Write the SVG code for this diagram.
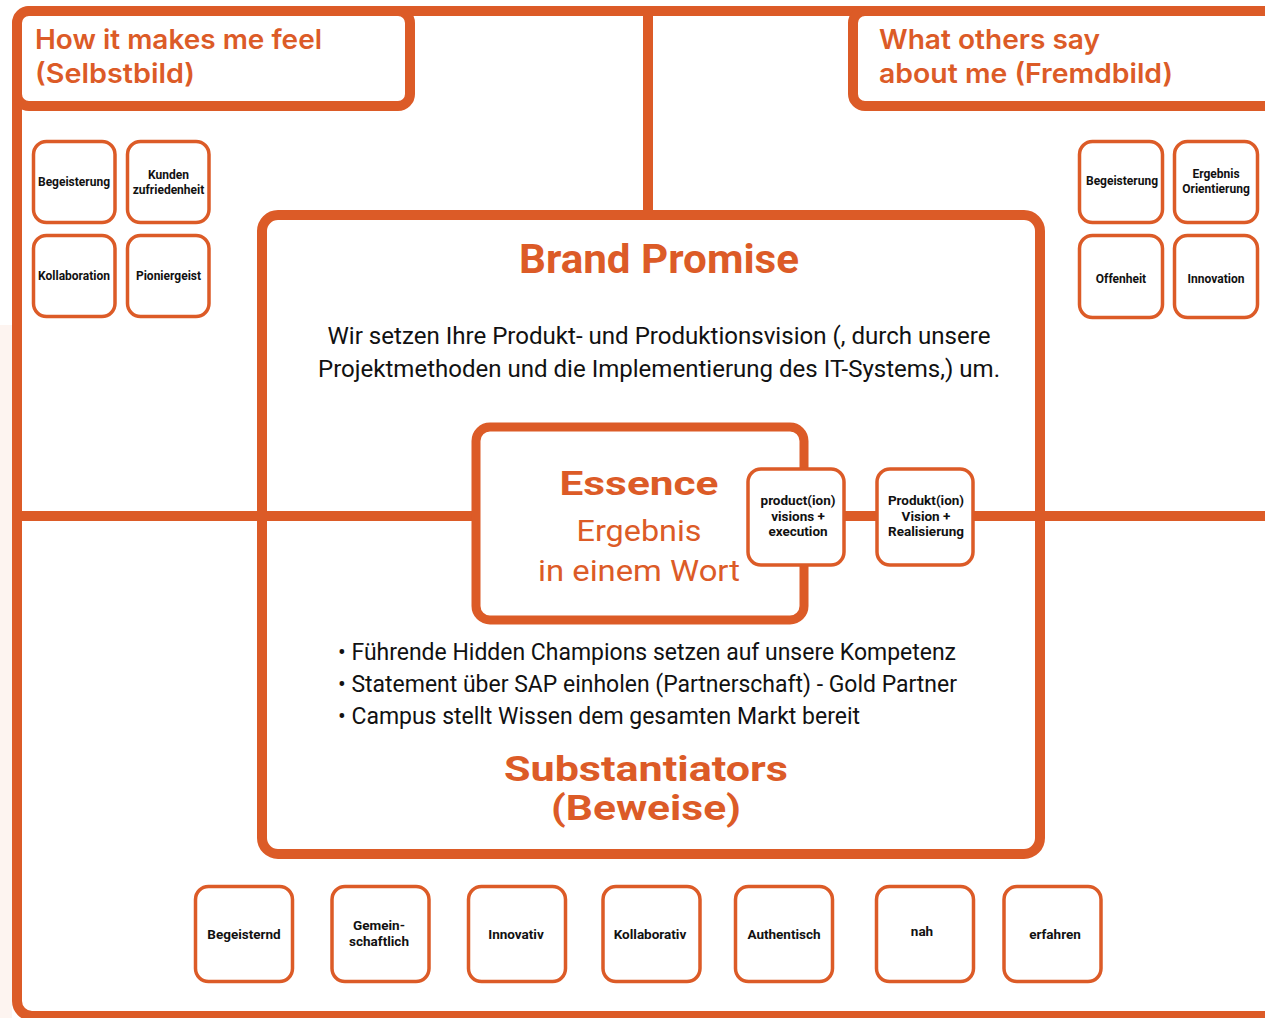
<svg xmlns="http://www.w3.org/2000/svg" width="1265" height="1018" viewBox="0 0 1265 1018">
<style>
.frame{fill:none;stroke:#DC5B27;stroke-width:10}
.big{fill:#fff;stroke:#DC5B27;stroke-width:10}
.bp{fill:none;stroke:#DC5B27;stroke-width:10}
.ess{fill:#fff;stroke:#DC5B27;stroke-width:9}
.node{fill:#fff;stroke:#DC5B27;stroke-width:3.5}
.line{stroke:#DC5B27;stroke-width:10;fill:none}
.hdr{font-family:Inter,"Liberation Sans",sans-serif;font-weight:600;font-size:27px;fill:#DC5B27}
.title{font-family:Roboto,"Liberation Sans",sans-serif;font-weight:700;fill:#DC5B27;text-anchor:middle}
.sub{font-family:Roboto,"Liberation Sans",sans-serif;font-weight:400;fill:#DC5B27;text-anchor:middle}
.body{font-family:Roboto,"Liberation Sans",sans-serif;font-size:23px;fill:#111}
.lbl{font-family:Roboto,"Liberation Sans",sans-serif;font-weight:700;font-size:12px;fill:#111;text-anchor:middle}
.lbl13{font-family:Roboto,"Liberation Sans",sans-serif;font-weight:700;font-size:13.5px;fill:#111;text-anchor:middle}
</style>
<rect x="0" y="0" width="1265" height="1018" fill="#fff"/>
<rect x="0" y="325" width="12" height="693" fill="#fdf4f0"/>
<g id="connectors">
<rect class="frame" x="17" y="11" width="1300" height="1005" rx="15"/>
<line class="line" x1="648" y1="11" x2="648" y2="215"/>
<line class="line" x1="17" y1="516" x2="1270" y2="516"/>
</g>
<g id="hdr-left">
<rect class="big" x="17" y="11" width="393" height="95" rx="12"/>
<text class="hdr" x="35" y="49" textLength="287" lengthAdjust="spacingAndGlyphs">How it makes me feel</text>
<text class="hdr" x="35" y="83" textLength="160" lengthAdjust="spacingAndGlyphs">(Selbstbild)</text>
</g>
<g id="hdr-right">
<rect class="big" x="853" y="11" width="500" height="95" rx="12"/>
<text class="hdr" x="879" y="49" textLength="221" lengthAdjust="spacingAndGlyphs">What others say</text>
<text class="hdr" x="879" y="83" textLength="294" lengthAdjust="spacingAndGlyphs">about me (Fremdbild)</text>
</g>
<g id="brand-promise">
<rect class="bp" x="262" y="215" width="778" height="639" rx="16"/>
<text class="title" x="659" y="273" font-size="40" textLength="280" lengthAdjust="spacingAndGlyphs">Brand Promise</text>
<text class="body" x="659" y="344" text-anchor="middle" textLength="663" lengthAdjust="spacingAndGlyphs">Wir setzen Ihre Produkt- und Produktionsvision (, durch unsere</text>
<text class="body" x="659" y="377" text-anchor="middle" textLength="682" lengthAdjust="spacingAndGlyphs">Projektmethoden und die Implementierung des IT-Systems,) um.</text>
<text class="body" x="338" y="660" textLength="618" lengthAdjust="spacingAndGlyphs">• Führende Hidden Champions setzen auf unsere Kompetenz</text>
<text class="body" x="338" y="692" textLength="619" lengthAdjust="spacingAndGlyphs">• Statement über SAP einholen (Partnerschaft) - Gold Partner</text>
<text class="body" x="338" y="724" textLength="522" lengthAdjust="spacingAndGlyphs">• Campus stellt Wissen dem gesamten Markt bereit</text>
<text class="title" x="646" y="781" font-size="35" textLength="284" lengthAdjust="spacingAndGlyphs">Substantiators</text>
<text class="title" x="646" y="820" font-size="35" textLength="190" lengthAdjust="spacingAndGlyphs">(Beweise)</text>
</g>
<g id="essence">
<rect class="ess" x="476" y="427" width="328" height="193" rx="14"/>
<text class="title" x="639" y="495" font-size="34" textLength="159" lengthAdjust="spacingAndGlyphs">Essence</text>
<text class="sub" x="639" y="541" font-size="30" textLength="125" lengthAdjust="spacingAndGlyphs">Ergebnis</text>
<text class="sub" x="639" y="581" font-size="30" textLength="202" lengthAdjust="spacingAndGlyphs">in einem Wort</text>
</g>
<g id="n-product-en">
<rect class="node" x="748" y="469" width="96" height="96" rx="13"/>
<text class="lbl13" x="798" y="505">product(ion)</text>
<text class="lbl13" x="798" y="521">visions +</text>
<text class="lbl13" x="798" y="536">execution</text>
</g>
<g id="n-produkt-de">
<rect class="node" x="877" y="469" width="96" height="96" rx="13"/>
<text class="lbl13" x="926" y="505">Produkt(ion)</text>
<text class="lbl13" x="926" y="521">Vision +</text>
<text class="lbl13" x="926" y="536">Realisierung</text>
</g>
<g id="l-begeisterung">
<rect class="node" x="33.5" y="141.5" width="81.5" height="81" rx="13"/>
<text class="lbl" x="74" y="186">Begeisterung</text>
</g>
<g id="l-kunden">
<rect class="node" x="127.5" y="141.5" width="81.5" height="81" rx="13"/>
<text class="lbl" x="168.5" y="179">Kunden</text>
<text class="lbl" x="168.5" y="194">zufriedenheit</text>
</g>
<g id="l-kollaboration">
<rect class="node" x="33.5" y="235.5" width="81.5" height="81" rx="13"/>
<text class="lbl" x="74" y="280">Kollaboration</text>
</g>
<g id="l-pioniergeist">
<rect class="node" x="127.5" y="235.5" width="81.5" height="81" rx="13"/>
<text class="lbl" x="168.5" y="280">Pioniergeist</text>
</g>
<g id="r-begeisterung">
<rect class="node" x="1079.5" y="141.5" width="83" height="81" rx="13"/>
<text class="lbl" x="1122" y="185">Begeisterung</text>
</g>
<g id="r-ergebnis">
<rect class="node" x="1174.5" y="141.5" width="83" height="81" rx="13"/>
<text class="lbl" x="1216" y="178">Ergebnis</text>
<text class="lbl" x="1216" y="193">Orientierung</text>
</g>
<g id="r-offenheit">
<rect class="node" x="1079.5" y="235.5" width="83" height="82" rx="13"/>
<text class="lbl" x="1121" y="283">Offenheit</text>
</g>
<g id="r-innovation">
<rect class="node" x="1174.5" y="235.5" width="83" height="82" rx="13"/>
<text class="lbl" x="1216" y="283">Innovation</text>
</g>
<g id="b-begeisternd">
<rect class="node" x="195.5" y="886.5" width="97" height="95" rx="13"/>
<text class="lbl13" x="244" y="939">Begeisternd</text>
</g>
<g id="b-gemeinschaftlich">
<rect class="node" x="332" y="886.5" width="97" height="95" rx="13"/>
<text class="lbl13" x="379" y="930">Gemein-</text>
<text class="lbl13" x="379" y="946">schaftlich</text>
</g>
<g id="b-innovativ">
<rect class="node" x="468.5" y="886.5" width="97" height="95" rx="13"/>
<text class="lbl13" x="516" y="939">Innovativ</text>
</g>
<g id="b-kollaborativ">
<rect class="node" x="603" y="886.5" width="97" height="95" rx="13"/>
<text class="lbl13" x="650" y="939">Kollaborativ</text>
</g>
<g id="b-authentisch">
<rect class="node" x="735.5" y="886.5" width="97" height="95" rx="13"/>
<text class="lbl13" x="784" y="939">Authentisch</text>
</g>
<g id="b-nah">
<rect class="node" x="876.5" y="886.5" width="97" height="95" rx="13"/>
<text class="lbl13" x="922" y="936">nah</text>
</g>
<g id="b-erfahren">
<rect class="node" x="1004" y="886.5" width="97" height="95" rx="13"/>
<text class="lbl13" x="1055" y="939">erfahren</text>
</g>
</svg>
